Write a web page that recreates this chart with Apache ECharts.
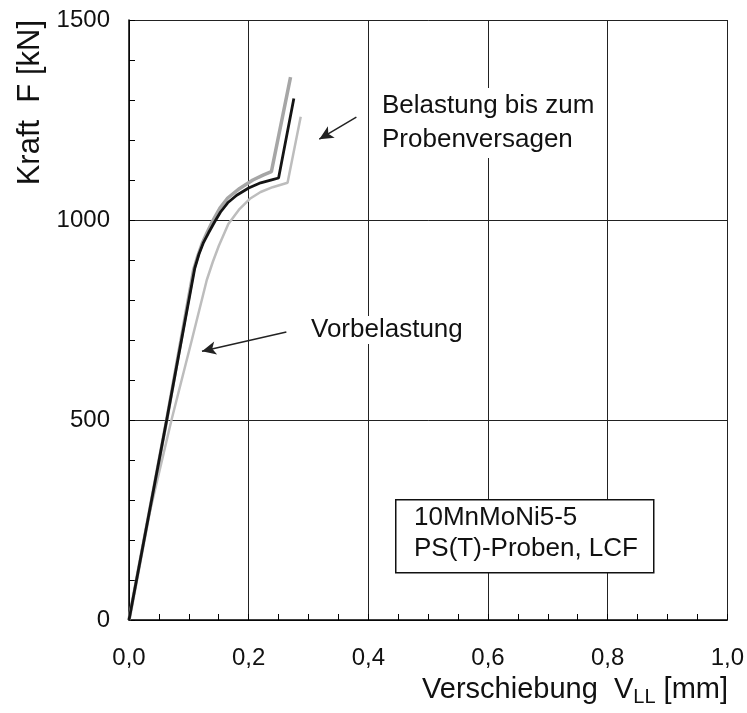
<!DOCTYPE html>
<html><head><meta charset="utf-8">
<script src="https://cdn.jsdelivr.net/npm/echarts@6/dist/echarts.min.js"></script>
<style>html,body{margin:0;padding:0;background:#fff}#c{width:747px;height:713px}</style>
</head><body><div id="c"></div>
<script>
// Hauptkurve (schwarz)
const blackCurve = [[0,0],[0.063,500],[0.110,880],[0.117,915],[0.124,942],[0.133,968],[0.143,995],[0.153,1020],[0.165,1043],[0.180,1062],[0.200,1080],[0.220,1093],[0.240,1101],[0.250,1105],[0.2755,1304]];
// obere graue Kurve
const greyCurve = [[0,0],[0.063,500],[0.108,875],[0.115,910],[0.122,940],[0.130,967],[0.140,998],[0.152,1030],[0.165,1055],[0.185,1079],[0.207,1100],[0.225,1113],[0.238,1121],[0.270,1357]];
// hellgraue Kurve (Vorbelastung)
const lightCurve = [[0,0],[0.030,240],[0.071,500],[0.105,700],[0.130,850],[0.140,895],[0.150,935],[0.166,990],[0.185,1028],[0.202,1053],[0.220,1070],[0.240,1082],[0.265,1093],[0.287,1258]];
const xTicks = [0,0.2,0.4,0.6,0.8,1.0];
const yTicks = [0,500,1000,1500];
const textBelastung = ['Belastung bis zum','Probenversagen'];
const textVor = 'Vorbelastung';
const textBox = ['10MnMoNi5-5','PS(T)-Proben, LCF'];
const yName = 'Kraft  F [kN]';
const arrowBelastung = [[0.380,1257],[0.318,1202]];
const arrowVor = [[0.263,720],[0.122,672]];

const FONT = '"Liberation Sans", Arial, sans-serif';
const chart = echarts.init(document.getElementById('c'));
const fmt = v => v.toFixed(1).replace('.', ',');
chart.setOption({
  animation:false,
  backgroundColor:'#fff',
  grid:{left:129,right:19,top:20,bottom:93},
  xAxis:{type:'value',min:0,max:1,interval:0.2,
    axisLine:{show:true,lineStyle:{color:'#000',width:1.5}},
    axisTick:{show:true,inside:true,length:6,lineStyle:{color:'#000'}},
    minorTick:{show:true,splitNumber:4,length:6,lineStyle:{color:'#000'}},
    splitLine:{show:true,lineStyle:{color:'#222',width:1}},
    axisLabel:{formatter:fmt,fontFamily:FONT,fontSize:24,color:'#111',margin:26}
  },
  yAxis:{type:'value',min:0,max:1500,interval:500,
    axisLine:{show:true,lineStyle:{color:'#000',width:1.5}},
    axisTick:{show:true,inside:true,length:6,lineStyle:{color:'#000'}},
    minorTick:{show:true,splitNumber:5,length:6,lineStyle:{color:'#000'}},
    splitLine:{show:true,lineStyle:{color:'#222',width:1}},
    axisLabel:{formatter:v=>String(v),fontFamily:FONT,fontSize:24,color:'#111',margin:19}
  },
  series:[
    {type:'line',data:lightCurve,symbol:'none',lineStyle:{color:'#bdbdbd',width:2.5},z:2},
    {type:'line',data:greyCurve,symbol:'none',lineStyle:{color:'#a6a6a6',width:3.5},z:3},
    {type:'line',data:blackCurve,symbol:'none',lineStyle:{color:'#141414',width:2.8},z:4,
      markLine:{silent:true,symbol:['none','arrow'],symbolSize:[10,14],label:{show:false},
        lineStyle:{color:'#222',width:1.5,type:'solid'},
        data:[
          [{coord:arrowBelastung[0]},{coord:arrowBelastung[1]}],
          [{coord:arrowVor[0]},{coord:arrowVor[1]}]
        ]}}
  ],
  graphic:[
    {type:'text',x:30,y:20,rotation:Math.PI/2,z:10,style:{text:yName,font:'31px '+FONT,fill:'#111',textAlign:'right',textVerticalAlign:'middle'}},
    {type:'text',x:728,y:690,z:10,style:{
      text:'{a|Verschiebung  V}{s|LL}{a| [mm]}',textAlign:'right',textVerticalAlign:'middle',
      rich:{a:{fontFamily:FONT,fontSize:29,fill:'#111'},s:{fontFamily:FONT,fontSize:20,fill:'#111',padding:[14,0,0,0]}}}},
    {type:'text',x:380,y:88,z:10,style:{text:textBelastung.join('\n'),font:'26px '+FONT,fill:'#111',lineHeight:34,backgroundColor:'#fff',padding:[1,2]}},
    {type:'text',x:309,y:316,z:10,style:{text:textVor,font:'26px '+FONT,fill:'#111',backgroundColor:'#fff',padding:[1,2]}},
    {type:'rect',left:395,top:499,z:10,shape:{width:258,height:73},style:{fill:'#fff',stroke:'#111',lineWidth:1.5}},
    {type:'text',x:414,y:502,z:11,style:{text:textBox.join('\n'),font:'26px '+FONT,fill:'#111',lineHeight:31}}
  ]
});
</script></body></html>
